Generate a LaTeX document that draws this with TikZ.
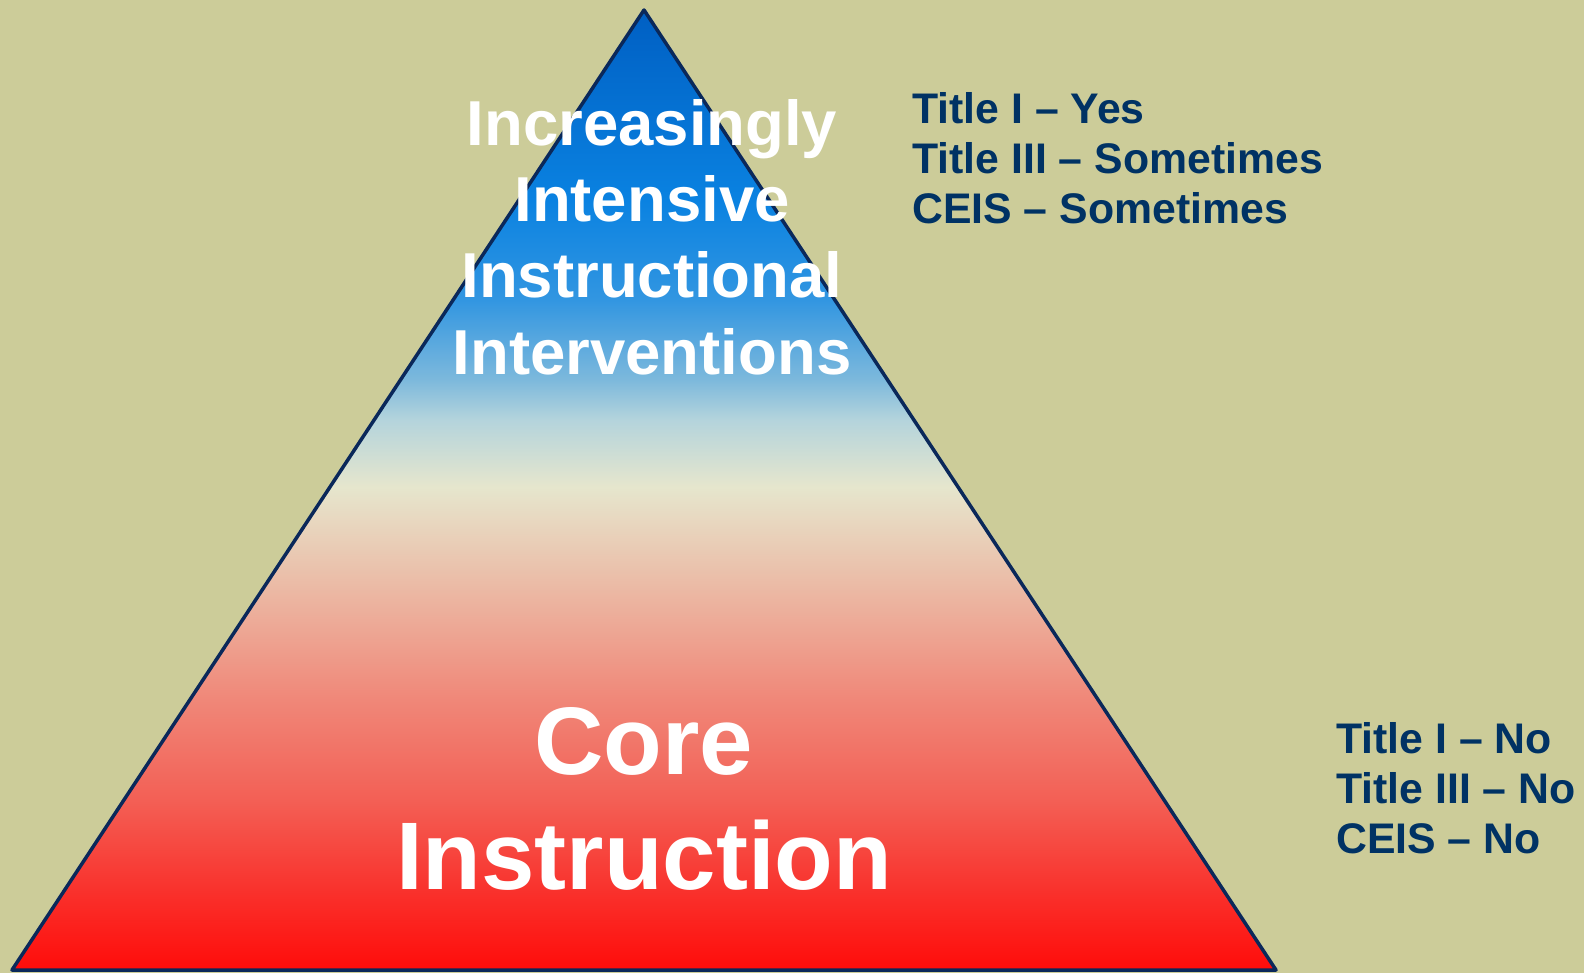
\documentclass[tikz,border=0pt]{standalone}
\usepackage{fontspec}
\setmainfont{Liberation Sans}
\definecolor{bgolive}{RGB}{204,204,153}
\definecolor{navytext}{RGB}{0,50,100}
\definecolor{edgenavy}{RGB}{10,40,90}
\pgfdeclareverticalshading{pyramidshade}{100bp}{%
  rgb(0bp)=(1,0.047,0.039);
  rgb(25bp)=(1,0.047,0.039);
  rgb(28.65bp)=(0.98,0.176,0.157);
  rgb(33.85bp)=(0.953,0.373,0.333);
  rgb(39.06bp)=(0.941,0.529,0.471);
  rgb(44.27bp)=(0.925,0.706,0.627);
  rgb(50.16bp)=(0.902,0.902,0.804);
  rgb(53.65bp)=(0.706,0.831,0.863);
  rgb(55.73bp)=(0.490,0.725,0.863);
  rgb(59.9bp)=(0.196,0.588,0.882);
  rgb(65.1bp)=(0.039,0.510,0.882);
  rgb(75bp)=(0,0.373,0.765);
  rgb(100bp)=(0,0.373,0.765)}
\begin{document}
\begin{tikzpicture}[x=1pt,y=-1pt,
  bigwhite/.style={text=white,font=\fontsize{63.5}{76}\selectfont\bfseries,anchor=base,inner sep=0pt},
  corewhite/.style={text=white,font=\fontsize{96}{115}\selectfont\bfseries,anchor=base,inner sep=0pt},
  sidetext/.style={text=navytext,font=\fontsize{42.8}{50}\selectfont\bfseries,anchor=base west,inner sep=0pt}]
\useasboundingbox (0,0) rectangle (1584,973);
\fill[bgolive] (0,0) rectangle (1584,973);
\coordinate (apex) at (644,10);
\coordinate (bl) at (12,970);
\coordinate (br) at (1276,970);
\shade[shading=pyramidshade] (apex) -- (br) -- (bl) -- cycle;
\draw[edgenavy,line width=3.5pt,line join=round] (apex) -- (br) -- (bl) -- cycle;
\node[bigwhite] (t1) at (652,146) {Increasingly};
\node[bigwhite] (t2) at (652,222) {Intensive};
\node[bigwhite] (t3) at (652,298) {Instructional};
\node[bigwhite] (t4) at (652,374) {Interventions};
\node[corewhite] (c1) at (644,774) {Core};
\node[corewhite] (c2) at (644,889) {Instruction};
\node[sidetext] (r1) at (912,124) {Title I – Yes};
\node[sidetext] (r2) at (912,174) {Title III – Sometimes};
\node[sidetext] (r3) at (912,224) {CEIS – Sometimes};
\node[sidetext] (s1) at (1336,753) {Title I – No};
\node[sidetext] (s2) at (1336,803) {Title III – No};
\node[sidetext] (s3) at (1336,853) {CEIS – No};
\end{tikzpicture}
\end{document}
